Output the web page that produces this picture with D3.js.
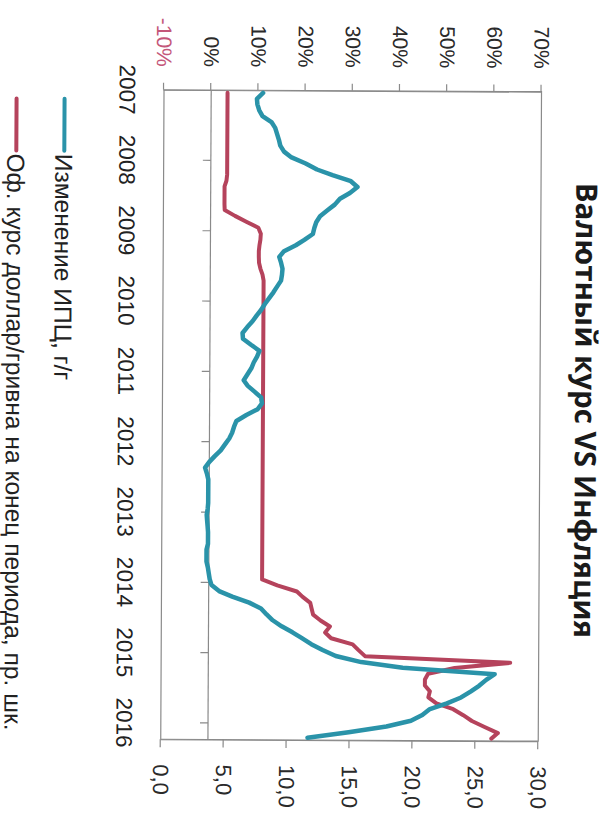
<!DOCTYPE html>
<html>
<head>
<meta charset="utf-8">
<script src="https://cdn.jsdelivr.net/npm/d3@7"></script>
<style>
  html, body { margin: 0; padding: 0; background: #fff; }
  svg { display: block; }
</style>
</head>
<body>
<svg id="chart" width="612" height="823"></svg>
<script>
// Chart text
const title = "Валютный курс VS Инфляция";
const seriesNames = ["Изменение ИПЦ, г/г", "Оф. курс доллар/гривна на конец периода, пр. шк."];

// Axis ticks
const years = [2007, 2008, 2009, 2010, 2011, 2012, 2013, 2014, 2015, 2016];
const cpiTicks = [-10, 0, 10, 20, 30, 40, 50, 60, 70];
const rateTicks = [0, 5, 10, 15, 20, 25, 30];

// Monthly series, Jan 2007 – Mar 2016
// CPI change, year over year, %
const cpi = [
  11.0, 9.7, 9.8, 10.2, 10.9, 12.8, 13.6, 14.0, 14.4, 14.7, 15.5, 17.1,
  20.1, 22.5, 25.8, 29.7, 31.1, 29.5, 27.4, 26.3, 24.7, 23.2, 22.4, 22.0,
  21.7, 19.9, 18.1, 15.6, 14.6, 15.0, 15.3, 15.2, 15.0, 14.2, 13.4, 12.5,
  11.6, 10.8, 9.9, 9.0, 7.9, 6.9, 7.0, 8.7, 10.5, 10.0, 9.3, 8.8,
  8.0, 7.2, 8.0, 9.5, 10.9, 11.1, 10.2, 7.8, 5.7, 5.2, 4.8, 4.2,
  3.3, 2.4, 1.2, 0.0, -0.9, -0.5, -0.2, -0.2, -0.2, -0.2, -0.2, -0.3,
  -0.5, -0.4, -0.3, -0.2, -0.2, -0.2, -0.5, -0.5, -0.5, -0.2, 0.0, 0.2,
  0.6, 2.2, 5.0, 8.6, 11.1, 12.3, 13.6, 15.5, 17.8, 19.8, 21.8, 24.2,
  27.0, 32.4, 41.2, 60.7, 58.9, 57.4, 55.6, 53.6, 50.6, 47.0, 45.4, 43.0,
  37.8, 29.8, 21.1
];
// Official USD/UAH rate, end of period (right scale)
const rate = [
  5.05, 5.05, 5.05, 5.05, 5.05, 5.05, 5.05, 5.05, 5.05, 5.05, 5.05, 5.05,
  5.05, 5.05, 5.05, 5.00, 4.85, 4.85, 4.85, 4.85, 4.87, 5.69, 6.63, 7.55,
  7.75, 7.72, 7.65, 7.60, 7.60, 7.62, 7.73, 7.90, 7.99, 7.99, 7.99, 7.99,
  7.99, 7.99, 7.99, 7.99, 7.99, 7.99, 7.99, 7.99, 7.99, 7.99, 7.99, 7.99,
  7.99, 7.99, 7.99, 7.99, 7.99, 7.99, 7.99, 7.99, 7.99, 7.99, 7.99, 7.99,
  7.99, 7.99, 7.99, 7.99, 7.99, 7.99, 7.99, 7.99, 7.99, 7.99, 7.99, 7.99,
  7.99, 7.99, 7.99, 7.99, 7.99, 7.99, 7.99, 7.99, 7.99, 7.99, 7.99, 7.99,
  9.20, 10.76, 11.22, 11.83, 11.94, 12.06, 12.65, 13.40, 13.02, 13.50, 15.21, 15.68,
  16.20, 27.74, 23.33, 21.22, 20.97, 20.97, 21.37, 21.25, 21.89, 23.23, 24.03, 24.72,
  25.73, 26.79, 26.27
];

const months = cpi.map((_, i) => new Date(2007, i, 15));

const colCpi = "#2a93a9";
const colRate = "#b5435c";
const font = "'Liberation Sans', Arial, sans-serif";

const svg = d3.select("#chart");
svg.append("rect").attr("width", 612).attr("height", 823).attr("fill", "#fff");

// The chart is laid out landscape and turned a quarter turn clockwise on the page
const root = svg.append("g").attr("transform", "rotate(0.29,306,411)")
  .append("g").attr("transform", "translate(612,0) rotate(90)");

const x = d3.scaleTime()
  .domain([new Date(2007, 0, 1), new Date(2016, 2, 27)])
  .range([90.5, 740]);
const yL = d3.scaleLinear().domain([-10, 70]).range([449.6, 72.1]);
const yR = d3.scaleLinear().domain([0, 30]).range([449.6, 72.1]);

const frameColor = "#8a8a8a";

// Plot frame
root.append("rect")
  .attr("x", x.range()[0]).attr("y", yL(70))
  .attr("width", x.range()[1] - x.range()[0])
  .attr("height", yL(-10) - yL(70))
  .attr("fill", "none").attr("stroke", frameColor).attr("stroke-width", 1.2);

// Zero line with year ticks
root.append("line")
  .attr("x1", x.range()[0]).attr("x2", x.range()[1])
  .attr("y1", yL(0)).attr("y2", yL(0))
  .attr("stroke", frameColor).attr("stroke-width", 1.2);

root.selectAll("line.yt").data(years.slice(1)).join("line")
  .attr("class", "yt")
  .attr("x1", d => x(new Date(d, 0, 1))).attr("x2", d => x(new Date(d, 0, 1)))
  .attr("y1", yL(0)).attr("y2", yL(0) + 8)
  .attr("stroke", frameColor).attr("stroke-width", 1.2);

root.selectAll("text.yl").data(years).join("text")
  .attr("class", "yl")
  .attr("x", d => x(new Date(d, 0, 1)))
  .attr("y", 494)
  .attr("text-anchor", "middle")
  .attr("font-family", font).attr("font-size", 22.5).attr("fill", "#222")
  .text(d => d);

// Left axis: CPI %
const axL = root.append("g").attr("transform", `translate(${x.range()[0]},0)`)
  .call(d3.axisLeft(yL).tickValues(cpiTicks).tickSize(7).tickSizeOuter(0).tickPadding(16)
    .tickFormat(d => d + "%"));
axL.select(".domain").attr("stroke", frameColor).attr("stroke-width", 1.2);
axL.selectAll(".tick line").attr("stroke", frameColor).attr("stroke-width", 1.2);
axL.selectAll(".tick text")
  .attr("font-family", font).attr("font-size", 21)
  .attr("fill", d => d < 0 ? "#c4577a" : "#2a2a2a");

// Right axis: exchange rate
const axR = root.append("g").attr("transform", `translate(${x.range()[1]},0)`)
  .call(d3.axisRight(yR).tickValues(rateTicks).tickSize(8).tickSizeOuter(0).tickPadding(17)
    .tickFormat(d => d3.format(".1f")(d).replace(".", ",")));
axR.select(".domain").attr("stroke", frameColor).attr("stroke-width", 1.2);
axR.selectAll(".tick line").attr("stroke", frameColor).attr("stroke-width", 1.2);
axR.selectAll(".tick text")
  .attr("font-family", font).attr("font-size", 22).attr("fill", "#2a2a2a");

// Series lines
const lineCpi = d3.line().x((d, i) => x(months[i])).y(d => yL(d));
const lineRate = d3.line().x((d, i) => x(months[i])).y(d => yR(d));

root.append("path").datum(rate)
  .attr("d", lineRate)
  .attr("fill", "none").attr("stroke", colRate).attr("stroke-width", 4)
  .attr("stroke-linejoin", "round").attr("stroke-linecap", "round");

root.append("path").datum(cpi)
  .attr("d", lineCpi)
  .attr("fill", "none").attr("stroke", colCpi).attr("stroke-width", 4.5)
  .attr("stroke-linejoin", "round").attr("stroke-linecap", "round");

// Title
root.append("text")
  .attr("x", 409).attr("y", 37)
  .attr("text-anchor", "middle")
  .attr("font-family", "'Open Sans', sans-serif").attr("font-weight", 700)
  .attr("font-size", 29.5).attr("fill", "#1a1a1a")
  .text(title);

// Legend
const legend = root.append("g");
const legendRows = [
  { name: seriesNames[0], color: colCpi, y: 549 },
  { name: seriesNames[1], color: colRate, y: 597 }
];
legendRows.forEach(r => {
  legend.append("line")
    .attr("x1", 100).attr("x2", 152).attr("y1", r.y).attr("y2", r.y)
    .attr("stroke", r.color).attr("stroke-width", 4).attr("stroke-linecap", "round");
  legend.append("text")
    .attr("x", 155).attr("y", r.y + 9)
    .attr("font-family", font).attr("font-size", 24.6).attr("fill", "#222")
    .text(r.name);
});
</script>
</body>
</html>
